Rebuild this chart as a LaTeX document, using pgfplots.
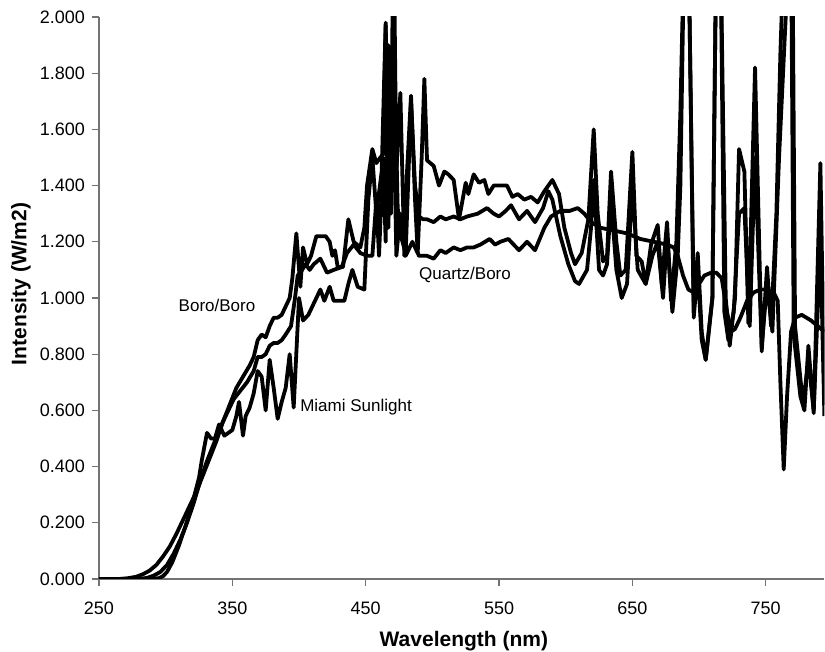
\documentclass[border=0pt]{standalone}
\usepackage{fontspec}
\setmainfont{Liberation Sans}
\usepackage{pgfplots}
\pgfplotsset{compat=1.18}
\begin{document}
\begin{tikzpicture}
\path[use as bounding box] (-49.5pt,-36.5pt) rectangle (363pt,289.5pt);
\begin{axis}[
  at={(0,0)}, anchor=south west,
  scale only axis,
  width=362.7pt, height=281pt,
  xmin=250, xmax=794, ymin=0, ymax=2,
  axis x line=bottom, axis y line=left,
  axis line style={-, draw=black!55, line width=0.6pt},
  xtick={250,350,450,550,650,750},
  ytick={0,0.2,0.4,0.6,0.8,1.0,1.2,1.4,1.6,1.8,2.0},
  tick align=outside,
  major tick length=3.5pt,
  tick style={black!55, line width=0.6pt},
  /pgf/number format/assume math mode=true,
  yticklabel style={/pgf/number format/.cd, fixed, fixed zerofill, precision=3},
  ticklabel style={font=\fontsize{9}{10}\selectfont},
  xticklabel style={/pgf/number format/1000 sep={}, yshift=-4.5pt},
  xlabel={Wavelength (nm)},
  ylabel={Intensity (W/m2)},
  label style={font=\fontsize{10.5}{12}\selectfont\bfseries},
  xlabel style={at={(axis description cs:0.503,-0.11)}, anchor=center},
  ylabel style={at={(axis description cs:-0.1075,0.525)}, anchor=center},
]
% Boro/Boro
\addplot[black, line width=1.9pt, line join=round, mark=none] coordinates {(250,0)(265,0)(272,0.003)(278,0.008)(283,0.017)(288,0.03)(293,0.05)(298,0.08)(303,0.115)(308,0.16)(313,0.21)(318,0.26)(323,0.31)(328,0.37)(333,0.43)(338,0.49)(343,0.56)(348,0.62)(353,0.68)(358,0.72)(363,0.76)(366,0.79)(369,0.85)(372,0.87)(375,0.86)(378,0.90)(381,0.93)(384,0.93)(387,0.94)(390,0.97)(393,1.0)(395,1.07)(398,1.23)(401,1.04)(403,1.18)(406,1.12)(409,1.15)(413,1.22)(417,1.22)(420,1.22)(423,1.20)(425,1.15)(427,1.17)(429,1.11)(433,1.11)(437,1.28)(441,1.20)(446,1.18)(449,1.25)(451,1.40)(455,1.53)(458,1.48)(461,1.50)(463,1.51)(465,1.97)(467,1.5)(469,1.6)(471,2.3)(473,1.45)(476,1.73)(479,1.15)(481,1.45)(484,1.72)(487,1.35)(489,1.16)(492,1.5)(494,1.78)(496,1.49)(501,1.47)(505,1.40)(509,1.45)(512,1.44)(516,1.42)(520,1.28)(525,1.41)(527,1.37)(531,1.44)(535,1.41)(539,1.42)(542,1.37)(546,1.40)(551,1.40)(556,1.40)(560,1.36)(564,1.37)(569,1.35)(574,1.36)(579,1.34)(584,1.38)(590,1.42)(595,1.37)(599,1.25)(604,1.16)(607,1.12)(612,1.16)(617,1.28)(621,1.60)(624,1.30)(628,1.13)(631,1.15)(634,1.45)(638,1.20)(641,1.08)(645,1.10)(650,1.52)(653,1.15)(657,1.13)(660,1.05)(664,1.19)(669,1.26)(672,1.05)(676,1.27)(679,0.99)(683,1.20)(686,1.66)(689,2.3)(692,2.3)(696,0.97)(699,1.16)(702,0.88)(705,0.78)(710,1.00)(713,2.3)(716,2.3)(720,1.00)(723,0.83)(727,1.00)(730,1.53)(734,1.45)(737,0.91)(742,1.82)(747,0.81)(751,1.11)(754,0.90)(758,1.30)(761,1.87)(764,2.3)(769,2.3)(771,0.87)(776,0.65)(779,0.60)(782,0.83)(786,0.59)(791,1.48)(794,0.62)};
% Quartz/Boro
\addplot[black, line width=1.9pt, line join=round, mark=none] coordinates {(250,0)(280,0)(286,0.004)(291,0.012)(296,0.025)(301,0.05)(306,0.09)(311,0.14)(316,0.20)(321,0.27)(326,0.35)(331,0.42)(336,0.48)(341,0.54)(346,0.59)(351,0.64)(356,0.67)(361,0.70)(366,0.74)(369,0.79)(372,0.79)(375,0.80)(378,0.83)(381,0.84)(384,0.84)(387,0.85)(390,0.87)(394,0.90)(397,1.00)(399,1.08)(401,1.09)(405,1.12)(408,1.10)(411,1.12)(416,1.14)(421,1.09)(426,1.10)(432,1.11)(436,1.16)(441,1.19)(446,1.16)(451,1.15)(455,1.15)(458,1.35)(460,1.15)(463,1.50)(465,1.20)(467,1.90)(469,1.30)(471,1.95)(474,1.32)(477,1.21)(480,1.16)(484,1.70)(487,1.40)(490,1.29)(493,1.28)(496,1.28)(501,1.27)(506,1.29)(510,1.28)(516,1.29)(521,1.28)(526,1.29)(534,1.30)(541,1.32)(546,1.30)(550,1.29)(555,1.31)(559,1.33)(565,1.28)(571,1.31)(577,1.27)(583,1.32)(587,1.38)(590,1.35)(596,1.22)(602,1.12)(607,1.06)(610,1.05)(616,1.10)(619,1.25)(621,1.42)(625,1.10)(628,1.08)(631,1.12)(634,1.35)(638,1.10)(642,1.00)(646,1.05)(650,1.40)(654,1.10)(660,1.05)(665,1.15)(669,1.20)(673,1.00)(676,1.22)(680,0.95)(684,1.15)(686,1.40)(689,2.3)(692,2.3)(696,0.93)(699,1.10)(702,0.85)(705,0.78)(710,1.00)(713,2.3)(716,2.3)(719,0.95)(722,0.85)(726,0.95)(730,1.30)(734,1.32)(738,0.90)(742,1.50)(747,0.83)(751,1.05)(755,0.88)(760,1.50)(764,1.90)(768,2.3)(770,2.3)(772,0.90)(778,0.62)(782,0.78)(786,0.60)(791,1.20)(794,0.58)};
% Miami Sunlight
\addplot[black, line width=1.9pt, line join=round, mark=none] coordinates {(250,0)(290,0)(295,0.003)(298,0.01)(301,0.025)(305,0.06)(310,0.12)(315,0.19)(320,0.27)(325,0.36)(327,0.42)(329,0.47)(331,0.52)(334,0.50)(337,0.50)(340,0.55)(344,0.51)(347,0.52)(350,0.53)(353,0.58)(355,0.63)(358,0.51)(360,0.58)(363,0.61)(366,0.66)(369,0.74)(372,0.72)(375,0.60)(378,0.78)(381,0.68)(384,0.57)(387,0.63)(390,0.68)(393,0.80)(396,0.61)(400,1.00)(403,0.92)(407,0.94)(411,0.98)(416,1.03)(419,0.99)(423,1.04)(426,0.99)(430,0.99)(434,0.99)(437,1.05)(440,1.10)(444,1.04)(449,1.03)(452,1.35)(455,1.50)(458,1.30)(462,1.45)(465,1.98)(467,1.25)(470,1.90)(473,1.15)(476,1.30)(480,1.15)(485,1.20)(490,1.15)(496,1.15)(501,1.14)(506,1.17)(510,1.16)(516,1.18)(521,1.17)(526,1.18)(531,1.18)(536,1.19)(543,1.21)(547,1.19)(551,1.20)(557,1.21)(561,1.19)(565,1.17)(571,1.20)(577,1.17)(584,1.25)(589,1.29)(596,1.31)(603,1.31)(609,1.32)(614,1.30)(619,1.27)(626,1.25)(636,1.24)(646,1.23)(656,1.21)(666,1.20)(676,1.19)(681,1.18)(684,1.15)(688,1.08)(692,1.03)(696,1.02)(700,1.05)(704,1.08)(709,1.09)(713,1.09)(717,1.07)(721,0.95)(724,0.88)(727,0.89)(731,0.93)(736,0.99)(741,1.02)(746,1.03)(751,1.03)(756,1.02)(759,0.99)(761,0.70)(763.5,0.39)(766,0.65)(769,0.88)(772,0.93)(777,0.94)(784,0.92)(789,0.90)(794,0.88)};
\node[font=\fontsize{8.5}{10}\selectfont, anchor=center] at (axis cs:338.5,0.975) {Boro/Boro};
\node[font=\fontsize{8.5}{10}\selectfont, anchor=center] at (axis cs:524.5,1.082) {Quartz/Boro};
\node[font=\fontsize{8.5}{10}\selectfont, anchor=center] at (axis cs:442.75,0.612) {Miami Sunlight};
\end{axis}
\end{tikzpicture}
\end{document}
